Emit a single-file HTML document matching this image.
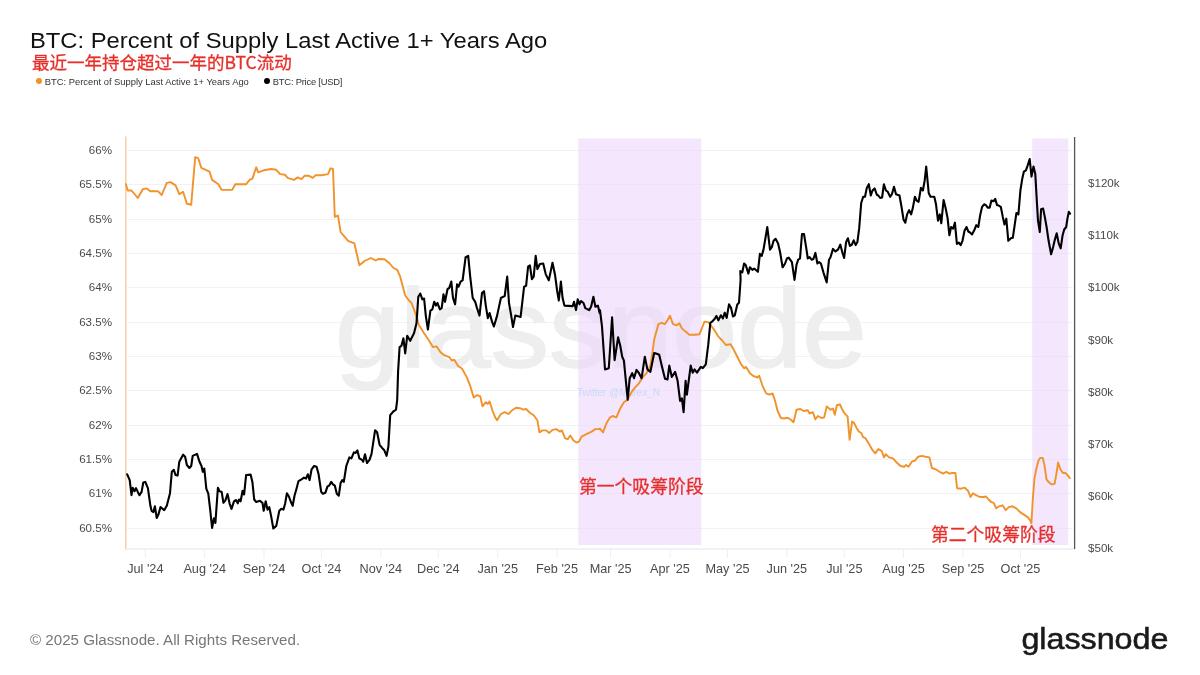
<!DOCTYPE html>
<html><head><meta charset="utf-8"><title>BTC: Percent of Supply Last Active 1+ Years Ago</title>
<style>
html,body{margin:0;padding:0;background:#fff;}
body{width:1200px;height:675px;position:relative;overflow:hidden;font-family:"Liberation Sans","Noto Sans CJK SC",sans-serif;}
.title{position:absolute;left:29.8px;top:27.3px;font-size:21.3px;line-height:28px;color:#111;white-space:nowrap;transform:scaleX(1.116);transform-origin:0 0;}
.sub{position:absolute;left:32px;top:50px;font-size:17.5px;line-height:24px;color:#e6302b;-webkit-text-stroke:0.3px #e6302b;white-space:nowrap;font-family:"Noto Sans CJK SC","Liberation Sans",sans-serif;}
.legend{position:absolute;left:36px;top:74.7px;font-size:9.4px;line-height:14px;color:#333;white-space:nowrap;}
.legend span.dot{display:inline-block;width:6px;height:6px;border-radius:50%;vertical-align:middle;margin-right:2.8px;position:relative;top:-1px;}
.legend .it{display:inline-block;margin-right:15.2px;}
.legend .it2{letter-spacing:-0.22px;}
.foot{position:absolute;left:30px;top:629.6px;font-size:15.13px;line-height:20px;color:#777;white-space:nowrap;}
.logo{position:absolute;left:1021px;top:620px;font-size:30px;line-height:36px;color:#1a1a1a;white-space:nowrap;letter-spacing:-0.3px;-webkit-text-stroke:0.5px #1a1a1a;}
svg{position:absolute;left:0;top:0;}
svg text{font-family:"Liberation Sans","Noto Sans CJK SC",sans-serif;}
.ax text{font-size:11.6px;fill:#4a4a4a;}
.ax text.xl{font-size:12.7px;}
.grid line{stroke:#f2f2f2;stroke-width:1;shape-rendering:crispEdges;}
.tick line{stroke:#efefef;stroke-width:1;}
.ann{font-size:17.8px;fill:#e6302b;stroke:#e6302b;stroke-width:0.3px;font-family:"Noto Sans CJK SC","Liberation Sans",sans-serif;}
</style></head><body>
<svg width="1200" height="675" viewBox="0 0 1200 675">
<g class="grid"><line x1="127" x2="1073" y1="150.4" y2="150.4"/><line x1="127" x2="1073" y1="184.8" y2="184.8"/><line x1="127" x2="1073" y1="219.1" y2="219.1"/><line x1="127" x2="1073" y1="253.5" y2="253.5"/><line x1="127" x2="1073" y1="287.8" y2="287.8"/><line x1="127" x2="1073" y1="322.1" y2="322.1"/><line x1="127" x2="1073" y1="356.5" y2="356.5"/><line x1="127" x2="1073" y1="390.9" y2="390.9"/><line x1="127" x2="1073" y1="425.2" y2="425.2"/><line x1="127" x2="1073" y1="459.6" y2="459.6"/><line x1="127" x2="1073" y1="493.9" y2="493.9"/><line x1="127" x2="1073" y1="528.2" y2="528.2"/></g>
<text x="335" y="366.5" font-size="112" fill="#eeeeee" stroke="#eeeeee" stroke-width="1.6" textLength="532" lengthAdjust="spacingAndGlyphs">glassnode</text>
<rect x="578.3" y="138.5" width="122.9" height="406.5" fill="#ebd6fb" fill-opacity="0.6"/>
<rect x="1032.2" y="138.5" width="36" height="406.5" fill="#ebd6fb" fill-opacity="0.6"/>
<text x="577" y="396" font-size="10" fill="#b9d4f3" fill-opacity="0.7">Twitter @Murex_N</text>
<line x1="125.8" x2="125.8" y1="136.5" y2="549" stroke="#f6c48d" stroke-width="1.2"/>
<line x1="125" x2="1075" y1="549" y2="549" stroke="#e4e4e4" stroke-width="1"/>
<line x1="1074.6" x2="1074.6" y1="137" y2="549" stroke="#555" stroke-width="1.3"/>
<g class="tick"><line x1="145.3" x2="145.3" y1="549.5" y2="558"/><line x1="204.7" x2="204.7" y1="549.5" y2="558"/><line x1="264.0" x2="264.0" y1="549.5" y2="558"/><line x1="321.5" x2="321.5" y1="549.5" y2="558"/><line x1="380.8" x2="380.8" y1="549.5" y2="558"/><line x1="438.3" x2="438.3" y1="549.5" y2="558"/><line x1="497.7" x2="497.7" y1="549.5" y2="558"/><line x1="557.0" x2="557.0" y1="549.5" y2="558"/><line x1="610.6" x2="610.6" y1="549.5" y2="558"/><line x1="670.0" x2="670.0" y1="549.5" y2="558"/><line x1="727.5" x2="727.5" y1="549.5" y2="558"/><line x1="786.8" x2="786.8" y1="549.5" y2="558"/><line x1="844.3" x2="844.3" y1="549.5" y2="558"/><line x1="903.6" x2="903.6" y1="549.5" y2="558"/><line x1="963.0" x2="963.0" y1="549.5" y2="558"/><line x1="1020.5" x2="1020.5" y1="549.5" y2="558"/></g>
<g class="ax"><text x="112" y="153.8" text-anchor="end">66%</text><text x="112" y="188.2" text-anchor="end">65.5%</text><text x="112" y="222.5" text-anchor="end">65%</text><text x="112" y="256.9" text-anchor="end">64.5%</text><text x="112" y="291.2" text-anchor="end">64%</text><text x="112" y="325.5" text-anchor="end">63.5%</text><text x="112" y="359.9" text-anchor="end">63%</text><text x="112" y="394.2" text-anchor="end">62.5%</text><text x="112" y="428.6" text-anchor="end">62%</text><text x="112" y="463.0" text-anchor="end">61.5%</text><text x="112" y="497.3" text-anchor="end">61%</text><text x="112" y="531.6" text-anchor="end">60.5%</text><text x="1088" y="187.2">$120k</text><text x="1088" y="239.3">$110k</text><text x="1088" y="291.4">$100k</text><text x="1088" y="343.5">$90k</text><text x="1088" y="395.6">$80k</text><text x="1088" y="447.7">$70k</text><text x="1088" y="499.8">$60k</text><text x="1088" y="551.9">$50k</text><text class="xl" x="145.3" y="573.3" text-anchor="middle">Jul '24</text><text class="xl" x="204.7" y="573.3" text-anchor="middle">Aug '24</text><text class="xl" x="264.0" y="573.3" text-anchor="middle">Sep '24</text><text class="xl" x="321.5" y="573.3" text-anchor="middle">Oct '24</text><text class="xl" x="380.8" y="573.3" text-anchor="middle">Nov '24</text><text class="xl" x="438.3" y="573.3" text-anchor="middle">Dec '24</text><text class="xl" x="497.7" y="573.3" text-anchor="middle">Jan '25</text><text class="xl" x="557.0" y="573.3" text-anchor="middle">Feb '25</text><text class="xl" x="610.6" y="573.3" text-anchor="middle">Mar '25</text><text class="xl" x="670.0" y="573.3" text-anchor="middle">Apr '25</text><text class="xl" x="727.5" y="573.3" text-anchor="middle">May '25</text><text class="xl" x="786.8" y="573.3" text-anchor="middle">Jun '25</text><text class="xl" x="844.3" y="573.3" text-anchor="middle">Jul '25</text><text class="xl" x="903.6" y="573.3" text-anchor="middle">Aug '25</text><text class="xl" x="963.0" y="573.3" text-anchor="middle">Sep '25</text><text class="xl" x="1020.5" y="573.3" text-anchor="middle">Oct '25</text></g>
<path d="M125.9,184.2 L127.7,190.5 L131.5,190.5 L137.8,198.0 L142.8,189.2 L146.6,188.4 L150.4,191.2 L157.9,191.2 L161.7,195.0 L166.8,182.9 L170.5,182.1 L175.6,185.4 L179.3,194.2 L183.1,191.7 L186.9,203.8 L191.2,204.8 L195.2,157.2 L198.2,158.2 L201.3,167.8 L209.6,171.6 L212.1,179.9 L218.4,184.2 L221.7,189.9 L232.2,189.9 L235.3,184.2 L246.1,184.2 L249.9,179.6 L252.4,178.6 L256.2,167.3 L258.2,172.3 L263.7,170.3 L271.3,169.0 L276.3,169.8 L280.1,174.1 L285.1,174.8 L287.7,177.9 L294.0,179.9 L297.7,177.4 L301.5,179.1 L304.5,175.8 L309.1,175.8 L312.8,177.9 L315.4,175.3 L321.7,175.3 L328.0,174.1 L330.5,168.3 L333.0,169.0 L334.8,216.9 L338.0,215.6 L340.6,232.0 L344.3,236.3 L348.1,240.8 L354.4,243.4 L359.4,265.3 L364.5,261.0 L370.8,258.0 L375.8,260.5 L378.3,259.0 L384.6,259.2 L389.7,263.5 L393.5,268.0 L397.2,269.8 L400.0,276.1 L405.2,295.5 L409.0,300.5 L411.5,303.0 L415.3,313.1 L419.0,325.2 L424.1,333.3 L429.1,340.8 L432.9,347.1 L436.7,346.4 L440.5,352.2 L444.2,355.2 L449.3,357.2 L451.8,360.5 L454.3,359.7 L458.1,366.0 L461.9,368.5 L466.9,377.4 L470.7,387.4 L473.7,397.6 L477.0,395.1 L480.3,396.4 L482.5,406.4 L485.8,402.2 L487.8,403.9 L489.6,401.4 L492.8,411.5 L495.4,417.8 L497.1,420.3 L500.9,414.0 L504.7,412.2 L508.5,414.0 L512.2,410.2 L516.0,407.7 L519.8,408.2 L523.6,409.7 L526.1,409.0 L529.9,412.7 L533.7,415.3 L537.4,420.3 L539.4,432.4 L542.5,430.4 L546.2,430.4 L549.3,432.9 L552.5,429.9 L556.3,429.1 L560.1,431.6 L561.9,430.4 L565.1,438.4 L567.7,439.2 L570.2,435.4 L573.5,440.5 L576.5,442.5 L579.0,441.7 L581.5,436.7 L586.5,434.2 L591.6,431.6 L595.4,429.1 L599.1,429.1 L600.0,428.6 L603.0,432.4 L606.3,423.6 L610.1,417.3 L612.6,416.0 L616.4,417.3 L620.2,408.5 L623.9,402.2 L627.7,399.6 L631.5,392.1 L635.3,387.1 L639.0,383.3 L642.8,377.0 L646.6,373.2 L650.4,365.6 L652.4,353.0 L654.2,339.2 L656.7,330.4 L658.4,324.1 L661.7,322.8 L665.0,324.1 L667.5,320.3 L670.0,315.8 L673.0,324.1 L676.8,325.3 L679.3,323.3 L681.9,328.4 L685.6,331.6 L689.4,334.7 L694.5,334.7 L699.5,334.2 L702.0,327.9 L704.5,321.6 L708.3,322.1 L710.8,325.3 L714.6,330.4 L718.4,336.7 L722.2,340.5 L725.9,345.0 L730.5,344.2 L733.5,349.3 L737.3,356.8 L741.1,364.4 L744.1,368.2 L746.1,366.9 L749.9,373.2 L753.7,376.2 L757.4,377.5 L759.2,375.7 L762.5,385.8 L766.2,393.4 L769.3,394.6 L772.5,393.4 L775.1,400.9 L777.6,411.0 L780.9,418.0 L783.9,418.5 L787.7,417.8 L790.9,419.8 L793.5,422.3 L796.5,409.7 L800.3,409.0 L803.5,411.0 L807.8,410.2 L809.6,413.5 L812.8,412.2 L815.4,419.3 L817.9,416.0 L821.7,418.0 L824.2,417.3 L826.7,406.4 L830.5,409.7 L833.0,408.5 L834.8,414.8 L836.8,405.2 L840.0,404.5 L842.5,410.1 L845.0,413.9 L847.6,416.4 L849.6,439.8 L852.1,421.4 L853.9,422.7 L856.4,427.7 L858.9,431.5 L861.4,433.2 L863.2,437.3 L865.2,437.8 L869.0,444.1 L872.7,450.4 L875.3,453.4 L878.3,449.1 L881.6,450.9 L884.1,457.4 L885.8,454.2 L889.1,457.4 L892.9,458.4 L896.7,462.5 L900.5,466.0 L904.2,466.8 L906.0,465.0 L908.5,466.8 L911.8,461.7 L915.1,460.5 L918.1,456.7 L921.9,455.9 L925.6,456.7 L929.4,457.4 L931.9,468.0 L935.7,469.3 L939.5,471.8 L943.3,473.6 L946.3,471.8 L949.6,473.6 L952.1,473.0 L955.4,473.0 L957.1,488.2 L960.9,488.7 L964.7,487.7 L968.0,490.7 L970.5,497.0 L973.0,493.2 L976.0,495.2 L979.8,497.0 L983.6,497.0 L986.1,496.5 L988.6,499.5 L991.1,502.0 L993.7,502.8 L996.2,508.3 L999.2,506.3 L1002.5,505.3 L1005.7,510.1 L1008.8,507.1 L1012.5,506.3 L1016.3,508.3 L1020.1,512.1 L1023.9,514.6 L1027.7,517.1 L1030.2,520.4 L1031.4,523.4 L1032.7,500.8 L1034.5,478.1 L1036.5,468.0 L1038.5,460.5 L1040.3,457.9 L1042.8,457.9 L1044.5,465.5 L1046.5,479.3 L1049.1,482.6 L1051.6,484.4 L1054.6,483.9 L1056.1,475.6 L1058.1,462.5 L1060.4,469.3 L1062.9,473.0 L1065.4,473.0 L1068.0,475.6 L1069.7,478.1" fill="none" stroke="#f1922b" stroke-width="1.9" stroke-linejoin="round" stroke-linecap="round"/>
<path d="M127.2,474.3 L129.7,480.1 L131.5,495.2 L132.7,487.7 L134.5,491.2 L136.0,488.2 L137.8,491.9 L139.5,495.2 L141.6,491.9 L143.3,482.4 L145.3,481.9 L147.9,488.2 L150.4,505.8 L151.6,510.8 L153.4,512.1 L154.9,506.3 L156.7,517.9 L158.4,514.6 L160.5,507.1 L164.2,510.1 L166.8,505.8 L170.0,493.2 L171.8,471.8 L173.8,469.8 L175.6,475.1 L177.6,475.6 L179.3,461.7 L183.1,454.7 L185.1,456.7 L186.9,465.0 L189.4,468.0 L191.2,466.0 L192.7,455.9 L197.0,453.9 L199.5,461.7 L201.5,466.0 L202.8,471.8 L204.3,468.5 L206.3,488.7 L208.3,493.7 L210.3,510.8 L212.1,528.0 L213.9,518.4 L215.4,522.9 L217.9,487.7 L219.6,491.2 L221.7,491.9 L223.4,502.8 L225.4,500.3 L227.5,494.0 L229.7,503.8 L231.5,508.8 L234.0,501.3 L236.0,500.0 L237.8,503.3 L239.0,499.5 L240.6,501.3 L242.6,490.7 L244.1,494.5 L246.1,475.1 L250.6,474.6 L252.4,481.9 L254.2,499.5 L256.2,502.0 L259.9,500.8 L262.5,502.8 L263.7,510.8 L265.7,501.3 L267.5,509.6 L269.3,507.1 L271.3,517.1 L273.3,528.5 L276.3,525.9 L279.3,510.8 L281.4,508.8 L283.4,509.6 L285.1,503.8 L286.9,493.2 L288.9,496.5 L290.9,502.0 L292.7,505.8 L294.5,495.7 L296.5,488.7 L298.5,481.1 L301.5,479.3 L304.0,477.6 L306.0,478.6 L307.8,474.3 L309.6,480.1 L311.6,469.3 L314.1,466.0 L316.6,466.8 L318.6,474.3 L321.2,491.9 L322.9,493.7 L325.4,492.7 L327.5,486.4 L329.2,485.6 L331.2,481.9 L333.0,484.4 L334.8,485.6 L336.8,493.7 L338.8,495.7 L340.6,483.1 L342.3,480.1 L343.8,481.9 L346.3,466.0 L349.4,457.4 L351.4,458.4 L353.9,452.4 L355.7,452.9 L357.4,450.4 L359.4,458.4 L362.0,459.9 L363.2,461.7 L365.0,454.2 L367.0,463.0 L369.5,459.9 L371.5,454.2 L375.1,430.2 L377.1,432.2 L379.6,444.8 L382.1,447.9 L384.1,449.9 L386.6,455.9 L388.4,446.6 L390.2,415.1 L393.5,411.3 L396.0,409.6 L397.2,400.0 L398.1,371.1 L399.6,347.1 L401.4,345.9 L403.4,338.3 L405.2,353.4 L407.2,335.8 L410.2,340.8 L414.0,333.3 L416.5,323.2 L418.3,296.8 L420.3,293.5 L422.3,299.3 L424.1,298.5 L425.8,315.6 L427.9,329.5 L430.4,310.6 L432.4,309.3 L434.2,301.8 L435.9,305.6 L437.4,303.0 L439.9,309.3 L441.7,308.1 L443.5,294.2 L445.0,301.8 L447.5,289.2 L449.3,287.9 L451.3,281.6 L453.0,298.0 L455.1,304.3 L457.1,284.2 L458.6,286.7 L460.6,281.6 L462.6,280.4 L465.6,257.2 L468.2,255.9 L470.2,276.6 L472.7,298.0 L475.2,301.8 L477.0,308.1 L479.5,315.6 L482.0,293.0 L484.0,291.2 L485.8,305.6 L487.8,318.2 L489.6,313.1 L492.1,321.9 L493.9,326.5 L497.1,315.6 L500.9,298.0 L504.7,296.0 L507.2,276.6 L509.0,303.0 L511.0,314.4 L513.0,327.0 L515.3,315.6 L520.6,316.9 L524.1,286.7 L526.1,285.9 L528.1,266.5 L529.9,265.3 L531.9,279.1 L533.7,276.6 L535.7,255.9 L537.4,269.0 L539.9,264.0 L543.2,263.5 L545.7,274.1 L548.8,280.4 L552.5,262.7 L555.1,275.3 L557.1,290.5 L558.8,300.5 L560.9,281.6 L562.6,298.0 L564.4,305.6 L572.7,306.1 L574.0,301.8 L576.0,310.1 L577.7,299.3 L579.5,304.3 L581.0,301.0 L583.5,303.0 L585.3,308.1 L589.1,310.1 L591.1,306.8 L593.4,296.8 L595.4,306.8 L597.9,305.6 L599.6,313.1 L600.0,310.2 L602.0,326.6 L605.0,369.4 L608.8,368.2 L612.1,317.3 L614.6,360.1 L618.1,337.4 L620.2,345.5 L622.2,356.8 L623.9,360.6 L627.7,399.6 L629.7,378.2 L632.2,373.2 L634.0,378.2 L636.5,369.9 L639.0,373.2 L641.6,378.2 L644.8,356.8 L647.4,369.4 L650.4,371.9 L654.2,353.0 L656.7,353.8 L659.2,354.8 L661.7,365.6 L665.0,378.7 L667.5,379.5 L669.3,365.6 L671.8,377.0 L675.1,371.9 L677.6,380.8 L680.1,400.9 L681.9,398.4 L683.6,412.2 L685.6,380.8 L686.9,394.6 L690.7,365.6 L692.7,372.7 L694.5,369.4 L697.0,372.7 L700.8,366.9 L702.8,368.2 L705.8,364.4 L708.3,344.2 L710.3,322.8 L712.1,321.6 L714.6,319.0 L716.4,316.0 L718.4,320.3 L720.9,315.3 L722.9,318.5 L724.7,312.7 L726.7,317.8 L729.0,304.4 L731.0,307.7 L733.0,316.5 L734.8,315.3 L737.3,304.4 L739.0,302.7 L740.6,280.0 L740.3,271.1 L742.3,272.3 L744.1,263.5 L745.8,265.3 L748.4,273.6 L749.9,267.3 L752.4,269.8 L754.2,268.5 L757.9,271.8 L759.9,253.9 L761.7,255.9 L763.5,249.6 L767.3,227.0 L770.0,249.6 L771.8,247.1 L773.6,240.8 L775.6,238.8 L778.1,243.4 L780.1,252.2 L782.6,267.3 L785.1,263.5 L786.9,258.5 L788.7,257.7 L791.9,262.2 L794.5,279.9 L796.5,264.8 L798.2,259.7 L800.0,258.5 L802.0,234.0 L804.0,234.0 L806.3,248.4 L807.8,258.5 L809.6,257.2 L811.6,259.7 L813.4,259.0 L815.4,252.9 L817.4,263.5 L819.1,262.2 L820.9,263.5 L823.4,272.3 L826.7,282.4 L829.0,259.7 L830.5,257.2 L833.0,248.9 L835.5,251.4 L838.0,249.6 L840.3,244.6 L842.3,252.2 L844.1,258.0 L846.1,242.1 L847.9,238.3 L849.9,245.9 L851.9,244.6 L853.7,240.3 L855.7,245.1 L857.4,242.1 L859.2,228.2 L861.2,203.0 L863.2,196.8 L865.0,196.8 L866.8,187.9 L868.8,184.2 L870.8,195.5 L872.5,190.5 L874.6,188.4 L876.8,194.7 L878.3,195.5 L880.1,198.0 L882.1,197.5 L883.9,184.2 L885.9,190.5 L887.7,191.7 L890.2,196.8 L891.9,194.2 L894.0,186.7 L896.0,194.2 L899.5,195.5 L901.5,206.8 L903.5,219.4 L905.3,222.7 L907.1,214.4 L909.1,210.1 L911.1,214.4 L912.8,208.1 L914.9,196.8 L916.6,200.5 L918.6,201.8 L920.9,187.9 L922.9,190.5 L924.7,180.4 L926.2,166.5 L928.7,193.0 L930.5,196.8 L934.3,196.8 L936.0,204.3 L938.0,220.7 L939.8,214.4 L941.3,223.2 L943.6,200.0 L945.6,208.1 L947.6,218.2 L949.4,235.3 L951.1,227.0 L953.1,228.7 L954.9,222.7 L956.9,243.9 L958.9,242.6 L960.7,245.1 L962.5,240.8 L964.5,230.8 L966.5,227.0 L968.3,231.5 L970.0,232.5 L972.0,234.5 L974.6,229.5 L976.3,225.2 L978.3,227.0 L980.1,215.6 L982.1,206.8 L984.1,204.3 L985.9,205.1 L987.7,207.6 L989.7,207.6 L991.4,200.5 L993.5,201.3 L995.2,198.8 L997.0,205.1 L998.7,205.6 L1000.8,206.8 L1002.8,216.9 L1004.5,224.5 L1006.3,218.7 L1008.3,240.8 L1010.8,238.3 L1012.8,237.8 L1014.6,225.7 L1016.4,213.1 L1018.4,214.4 L1020.4,190.5 L1022.2,179.1 L1023.9,171.6 L1025.9,170.3 L1027.7,165.3 L1029.7,159.0 L1031.5,176.6 L1033.5,166.5 L1035.3,174.1 L1036.8,200.5 L1038.0,220.7 L1039.8,232.0 L1041.1,209.3 L1043.1,208.6 L1044.8,216.9 L1046.6,227.0 L1048.6,240.8 L1051.1,254.2 L1053.1,247.1 L1054.9,239.6 L1056.7,233.3 L1058.7,243.4 L1060.7,248.4 L1062.5,235.8 L1064.2,229.5 L1066.2,227.0 L1067.5,218.2 L1068.8,211.9 L1070.0,213.6" fill="none" stroke="#000" stroke-width="2.1" stroke-linejoin="round" stroke-linecap="round"/>
<text class="ann" x="579" y="492.5">第一个吸筹阶段</text>
<text class="ann" x="931" y="540.5">第二个吸筹阶段</text>
</svg>
<div class="title">BTC: Percent of Supply Last Active 1+ Years Ago</div>
<div class="sub">最近一年持仓超过一年的BTC流动</div>
<div class="legend"><span class="it"><span class="dot" style="background:#f1922b"></span>BTC: Percent of Supply Last Active 1+ Years Ago</span><span class="it it2"><span class="dot" style="background:#000"></span>BTC: Price [USD]</span></div>
<div class="foot">© 2025 Glassnode. All Rights Reserved.</div>
<svg class="lg" width="1200" height="675" viewBox="0 0 1200 675"><text x="1021.4" y="648.7" font-size="29.6" fill="#1a1a1a" stroke="#1a1a1a" stroke-width="0.55" textLength="147" lengthAdjust="spacingAndGlyphs">glassnode</text></svg>
</body></html>
